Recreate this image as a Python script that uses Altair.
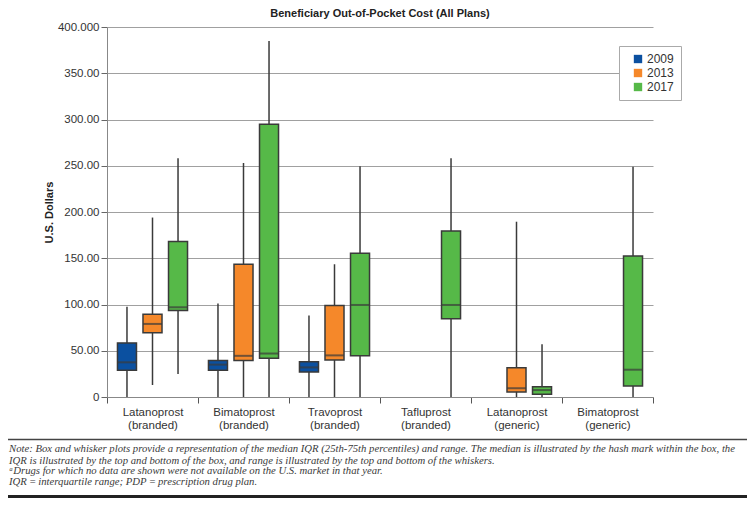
import altair as alt
import pandas as pd

# ---------------- data ----------------
drugs = ["Latanoprost|(branded)", "Bimatoprost|(branded)", "Travoprost|(branded)",
         "Tafluprost|(branded)", "Latanoprost|(generic)", "Bimatoprost|(generic)"]
years = ["2009", "2013", "2017"]
year_colors = ["#0b50a0", "#f5882a", "#56b948"]

box_drug = [
    "Latanoprost|(branded)", "Bimatoprost|(branded)", "Travoprost|(branded)",
    "Latanoprost|(branded)", "Bimatoprost|(branded)", "Travoprost|(branded)", "Latanoprost|(generic)",
    "Latanoprost|(branded)", "Bimatoprost|(branded)", "Travoprost|(branded)", "Tafluprost|(branded)",
    "Latanoprost|(generic)", "Bimatoprost|(generic)",
]
box_year = ["2009", "2009", "2009",
            "2013", "2013", "2013", "2013",
            "2017", "2017", "2017", "2017", "2017", "2017"]
box_low = [0, 0, 0,
           13, 0, 0, 0,
           25, 0, 0, 0, 0, 0]
box_q1 = [29, 29, 27,
          69.5, 39.5, 40, 5.5,
          93.5, 42, 44.5, 84.5, 3, 12]
box_median = [37.5, 35, 32,
              79, 44.5, 45, 9.5,
              97, 47, 99.5, 99.5, 7.5, 29.5]
box_q3 = [58.5, 39.5, 38,
          89.5, 143.5, 99, 31.5,
          168, 295, 155.5, 179.5, 11, 152.5]
box_high = [97.5, 101, 88,
            194, 253, 143.5, 189.5,
            258, 385, 249.5, 258, 57, 249]

y_ticks = [0, 50, 100, 150, 200, 250, 300, 350, 400]

title_text = "Beneficiary Out-of-Pocket Cost (All Plans)"
y_title = "U.S. Dollars"
note_lines = [
    "Note: Box and whisker plots provide a representation of the median IQR (25th-75th percentiles) and range. The median is illustrated by the hash mark within the box, the",
    "IQR is illustrated by the top and bottom of the box, and range is illustrated by the top and bottom of the whiskers.",
    "\u1d43Drugs for which no data are shown were not available on the U.S. market in that year.",
    "IQR\u2009=\u2009interquartile range; PDP\u2009=\u2009prescription drug plan.",
]

df = pd.DataFrame({
    "drug": box_drug, "year": box_year, "low": box_low, "q1": box_q1,
    "median": box_median, "q3": box_q3, "high": box_high,
})

# ---------------- chart ----------------
FONT = "Liberation Sans"
W, H = 546, 370
STROKE = "#3a3a3a"

x_enc = alt.X(
    "drug:N",
    scale=alt.Scale(domain=drugs, paddingInner=0, paddingOuter=0),
    axis=alt.Axis(
        title=None, labelAngle=0, tickBand="extent",
        labelExpr="split(datum.label, '|')", labelFontSize=11.5,
        labelLineHeight=13, labelBaseline="top", labelPadding=3,
        labelColor="#333", labelFont=FONT, tickSize=6, tickColor="#555",
        domainColor="#888", grid=False,
    ),
)
xoff_enc = alt.XOffset(
    "year:N", scale=alt.Scale(domain=years, paddingInner=0.255, paddingOuter=0.41)
)
y_scale = alt.Scale(domain=[0, 400], nice=False)
y_axis = alt.Axis(
    values=y_ticks,
    labelExpr="datum.value == 400 ? '400.000' : (datum.value == 0 ? '0' : format(datum.value, '.2f'))",
    labelFontSize=11.5, labelColor="#333", labelFont=FONT, labelPadding=2,
    tickSize=6, tickColor="#666", domainColor="#888",
    grid=True, gridColor="#a0a0a0", gridWidth=1,
    title=y_title, titleFont=FONT, titleFontSize=11, titleFontWeight="bold",
    titleColor="#222", titlePadding=3,
)

base = alt.Chart(df).encode(x=x_enc, xOffset=xoff_enc)

whisker = base.mark_rule(color=STROKE, strokeWidth=1.5).encode(
    y=alt.Y("low:Q", scale=y_scale, axis=y_axis), y2="high:Q"
)
box = base.mark_bar(stroke=STROKE, strokeWidth=1.5).encode(
    y=alt.Y("q1:Q", scale=y_scale),
    y2="q3:Q",
    color=alt.Color(
        "year:N",
        scale=alt.Scale(domain=years, range=year_colors),
        legend=alt.Legend(
            title=None, orient="none", legendX=512, legendY=19,
            symbolType="square", symbolSize=70, symbolStrokeWidth=0,
            symbolOffset=6, labelOffset=3,
            labelExpr="datum.label + '      '",
            labelFontSize=12, labelFont=FONT, labelColor="#333",
            padding=7, rowPadding=2, strokeColor="#aaa", fillColor="white",
        ),
    ),
)
median = base.mark_tick(color=STROKE, thickness=2, size=19).encode(
    y=alt.Y("median:Q", scale=y_scale)
)

layers = [whisker, box, median]

# note separator lines and note text (below the plot)
layers.append(
    alt.Chart(pd.DataFrame({"k": [0]})).mark_rule(color="#444", strokeWidth=1.5).encode(
        x=alt.value(-99), x2=alt.value(640), y=alt.value(412.5)
    )
)
layers.append(
    alt.Chart(pd.DataFrame({"k": [0]})).mark_rule(color="#222", strokeWidth=3).encode(
        x=alt.value(-99), x2=alt.value(640), y=alt.value(469.5)
    )
)
note_y = [422, 433.5, 444, 454.5]
for line, yy in zip(note_lines, note_y):
    layers.append(
        alt.Chart(pd.DataFrame({"note": [line]})).mark_text(
            align="left", baseline="middle", font="Liberation Serif",
            fontStyle="italic", fontSize=10.7, color="#3a3a3a",
        ).encode(text="note:N", x=alt.value(-98), y=alt.value(yy))
    )

chart = alt.layer(*layers).properties(
    width=W, height=H,
    title=alt.TitleParams(
        title_text, font=FONT, fontSize=11, fontWeight="bold", color="#222",
        anchor="middle", frame="group", offset=2,
    ),
    autosize=alt.AutoSizeParams(type="none"),
    padding={"left": 99, "top": 19, "right": 94, "bottom": 102},
).configure_view(stroke=None)

chart.save("out.html", embed_options={"renderer": "svg", "actions": False})
